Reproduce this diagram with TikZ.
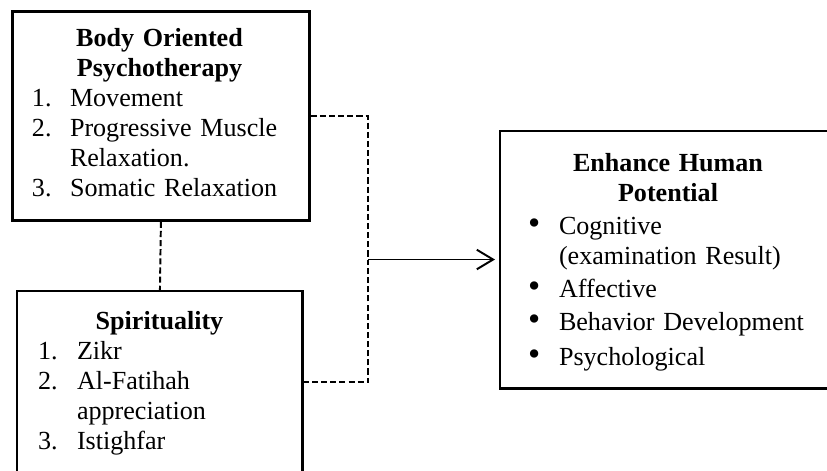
\documentclass[tikz,border=0pt]{standalone}
\usepackage{fontspec}
\setmainfont{Liberation Serif}
\usepackage{enumitem}
\usetikzlibrary{arrows.meta}
\newlength{\px}
\setlength{\px}{0.46pt}
\newcommand{\marca}{\smash{\fontsize{16pt}{13.8pt}\selectfont\textbullet}}

\begin{document}
\begin{tikzpicture}[x=0.46pt, y=-0.46pt,
    every node/.style={font=\fontsize{12pt}{13.8pt}\selectfont},
    caixa/.style={inner sep=0pt, anchor=north west},
    borda/.style={line width=1.3pt},
    texto/.style={anchor=north, inner sep=0pt, align=left},
    tracejado/.style={line width=0.9pt, dash pattern=on 2.8pt off 1.4pt},
    seta/.style={line width=0.9pt, -{Straight Barb[length=7.5pt, width=9pt]}, shorten >=2.3pt}]

    \useasboundingbox (0,0) rectangle (827,470);
    \clip (0,0) rectangle (827,470);

    % caixas (a segunda e a terceira saem da figura)
    \node[caixa, draw, borda, minimum width=297\px, minimum height=209\px] (bop) at (11,10) {};
    \node[caixa, minimum width=285\px, minimum height=182\px] (spi) at (17,291) {};
    \node[caixa, minimum width=350\px, minimum height=257\px] (ehp) at (500,131) {};
    \draw[borda] (spi.south west) -- (spi.north west) -- (spi.north east) -- (spi.south east);
    \draw[borda] (ehp.north east) -- (ehp.north west) -- (ehp.south west) -- (ehp.south east);

    \node[texto, text width=297\px] (bopTxt) at (159.5,28) {%
        {\centering\bfseries Body Oriented\\Psychotherapy\par}
        \begin{enumerate}[nosep, label=\arabic*., align=left, labelwidth=38\px, labelsep=0pt, leftmargin=59\px]
            \item Movement
            \item Progressive Muscle\newline Relaxation.
            \item Somatic Relaxation
        \end{enumerate}};

    \node[texto, text width=285\px] (spiTxt) at (159.5,311) {%
        {\centering\bfseries Spirituality\par}
        \begin{enumerate}[nosep, label=\arabic*., align=left, labelwidth=39\px, labelsep=0pt, leftmargin=60\px]
            \item Zikr
            \item Al-Fatihah\newline appreciation
            \item Istighfar
        \end{enumerate}};

    \node[texto, text width=336\px] (ehpTxt) at (668,153) {%
        {\centering\bfseries Enhance Human\\Potential\par}
        \vspace{1.5pt}
        \begin{itemize}[nosep, itemsep=1.2pt, label=\marca, align=left, labelwidth=31\px, labelsep=0pt, leftmargin=59\px]
            \item Cognitive\newline (examination Result)
            \item Affective
            \item Behavior Development
            \item \vspace{1.5pt}Psychological
        \end{itemize}};

    \coordinate (meio) at (368,259.5);
    \draw[tracejado] (bop.south) -- (spi.north);
    \draw[tracejado] (bop.east) -| (meio);
    \draw[tracejado] (spi.east) -| (meio);
    \draw[seta] (meio) -- (meio -| ehp.west);

\end{tikzpicture}
\end{document}
